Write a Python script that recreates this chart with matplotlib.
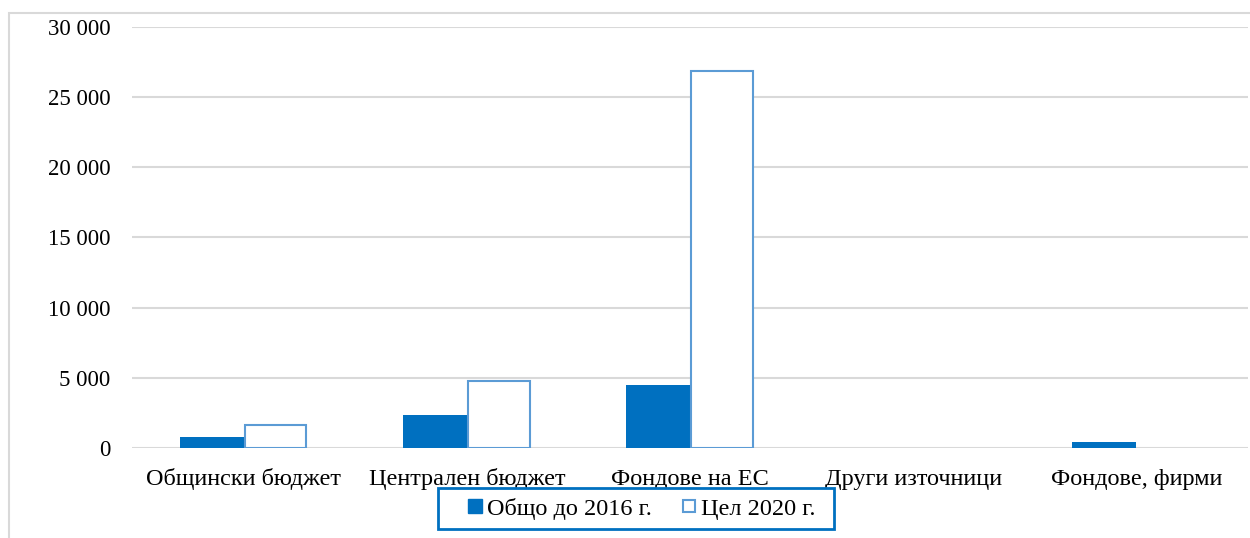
import matplotlib
matplotlib.use("Agg")
import matplotlib.pyplot as plt
import numpy as np
from matplotlib.lines import Line2D
from matplotlib.patches import Rectangle

categories = ["Общински бюджет", "Централен бюджет", "Фондове на ЕС", "Други източници", "Фондове, фирми"]
total_2016 = [800, 2350, 4500, 0, 400]
target_2020 = [1650, 4750, 26850, 0, 0]
series_names = ["Общо до 2016 г.", "Цел 2020 г."]
yticks = [0, 5000, 10000, 15000, 20000, 25000, 30000]
ytick_labels = ["0", "5 000", "10 000", "15 000", "20 000", "25 000", "30 000"]

dark = "#0070C0"
light = "#5B9BD5"
grid = "#D9D9D9"

plt.rcParams['font.family'] = ['Liberation Serif', 'DejaVu Serif']

fig = plt.figure(figsize=(12.5, 5.38), dpi=100)
fig.patches.append(Rectangle((9/1250, -0.2), 2.0, 1.2 - 13/538,
                             transform=fig.transFigure, fill=False,
                             edgecolor=grid, linewidth=1.5, zorder=0))
ax = fig.add_axes([132/1250, 1 - 448/538, (1248 - 132)/1250, (448 - 26.7)/538])

x = np.arange(len(categories))
w = 0.287
ax.bar(x - w/2, total_2016, width=w, color=dark, zorder=3)
lw = [1.5 if v > 0 else 0 for v in target_2020]
ax.bar(x + w/2, target_2020, width=w - 0.012, color="white", edgecolor=light, linewidth=lw, zorder=3)

ax.set_xlim(-0.5, len(categories) - 0.5)
ax.set_ylim(0, 30000)
ax.set_yticks(yticks)
ax.set_yticklabels(ytick_labels)
ax.set_xticks(x)
ax.set_xticklabels(categories, va='baseline')
ax.tick_params(axis='both', length=0, colors="black")
ax.tick_params(axis='y', pad=15.5, labelsize=16.5)
ax.tick_params(axis='x', pad=26.6, labelsize=17.5)
ax.yaxis.grid(True, color=grid, linewidth=1.5, zorder=0)
ax.set_axisbelow(True)
for s in ax.spines.values():
    s.set_visible(False)

# legend frame
fig.patches.append(Rectangle((438/1250, 1 - 529/538), 396/1250, 41/538,
                             transform=fig.transFigure, facecolor="white",
                             edgecolor=dark, linewidth=2, zorder=4))

handles = [Line2D([], [], marker='s', linestyle='none', markersize=10,
                  markerfacecolor=dark, markeredgecolor=dark),
           Line2D([], [], marker='s', linestyle='none', markersize=8.5,
                  markerfacecolor="white", markeredgecolor=light, markeredgewidth=1.5)]
leg = fig.legend(handles, series_names, loc='center', bbox_to_anchor=(641/1250, 1 - 508.5/538),
                 ncol=2, fontsize=17.5, frameon=False,
                 handlelength=0.7, handletextpad=0.15, columnspacing=1.2,
                 borderpad=0.35)
leg.set_zorder(5)

fig.savefig("out.png", dpi=100)
